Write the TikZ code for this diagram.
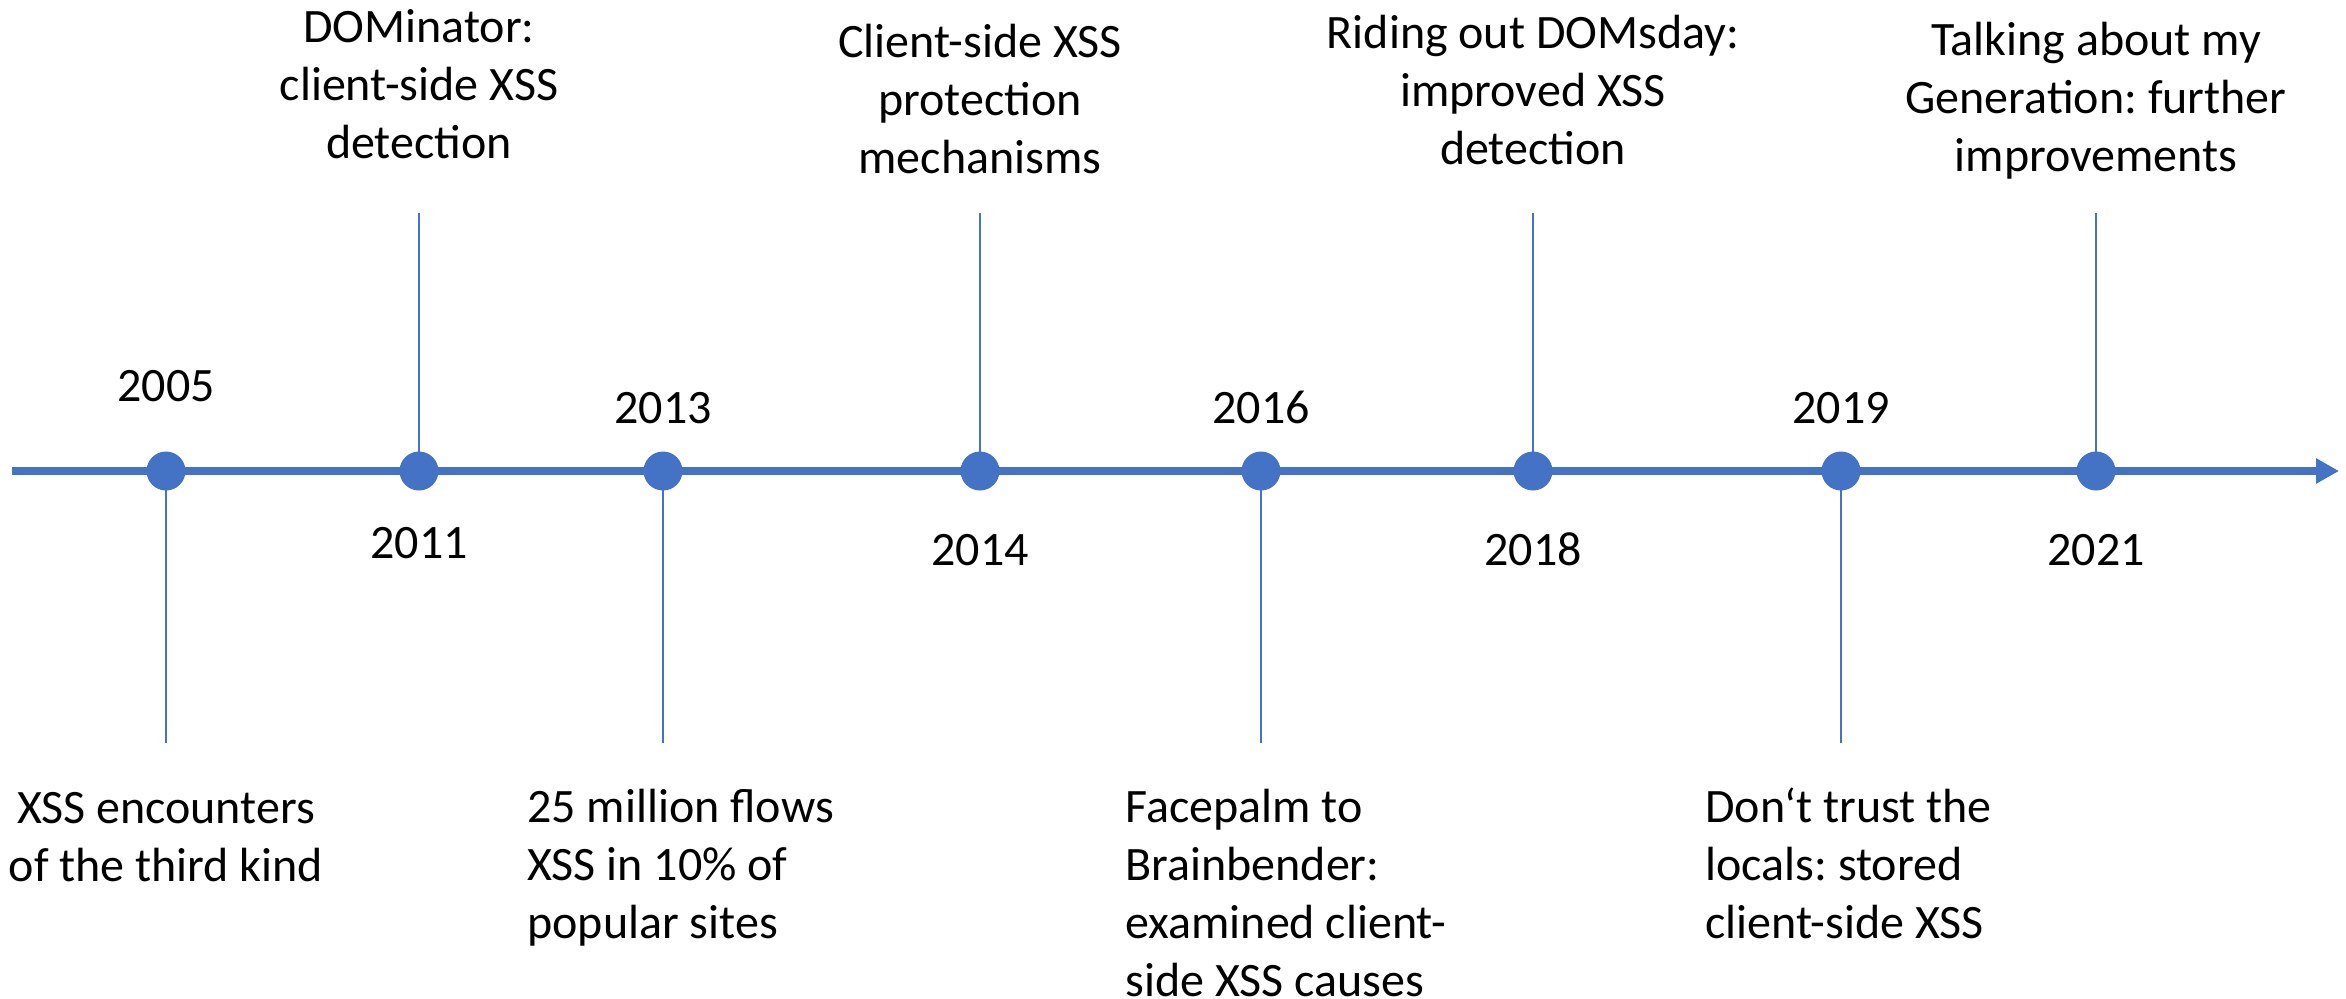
\documentclass[tikz,border=0pt]{standalone}
\usepackage{fontspec}
\setmainfont{Carlito}
\usetikzlibrary{arrows.meta}
\definecolor{tlblue}{HTML}{4472C4}
\frenchspacing
\begin{document}
\begin{tikzpicture}[x=0.5pt,y=-0.5pt,
  axisline/.style={draw=tlblue,line width=4pt,-{Triangle[length=11.5pt,width=12pt]}},
  stem/.style={draw=tlblue,line width=1.25pt},
  dot/.style={circle,fill=tlblue,minimum size=19.5pt,inner sep=0pt},
  txt/.style={font=\fontsize{24}{29}\selectfont,inner sep=0pt},
  year/.style={txt,anchor=base},
  cnote/.style={txt,anchor=base,align=center},
  lnote/.style={txt,anchor=base west,align=left}]
\useasboundingbox (0,0) rectangle (2346,998);

% points on the time axis and the free ends of the stems
\coordinate (start) at (12,471);
\coordinate (tip) at (2339,471);
\foreach \yr/\x/\e in {2005/166/743,2011/419/213,2013/663/743,2014/980/213,
                       2016/1261/743,2018/1533/213,2019/1841/743,2021/2096/213}{
  \coordinate (p\yr) at (\x,471);
  \coordinate (e\yr) at (\x,\e);
}

% axis and stems
\draw[axisline] (start) -- (tip);
\foreach \yr in {2005,2011,2013,2014,2016,2018,2019,2021}
  \draw[stem] (p\yr) -- (e\yr);

% event dots
\foreach \yr in {2005,2011,2013,2014,2016,2018,2019,2021}
  \node[dot] (d\yr) at (p\yr) {};

% year labels
\node[year] (y2005) at (166,401) {2005};
\node[year] (y2011) at (419,558) {2011};
\node[year] (y2013) at (663,423) {2013};
\node[year] (y2014) at (980,565) {2014};
\node[year] (y2016) at (1261,423) {2016};
\node[year] (y2018) at (1533,565) {2018};
\node[year] (y2019) at (1841,423) {2019};
\node[year] (y2021) at (2096,565) {2021};

% publications above the axis (placed by the baseline of their last line)
\node[cnote] (t2011) at (419,158) {DOMinator:\\client-side XSS\\detection};
\node[cnote] (t2014) at (980,173) {Client-side XSS\\protection\\mechanisms};
\node[cnote] (t2018) at (1533,164) {Riding out DOMsday:\\improved XSS\\detection};
\node[cnote] (t2021) at (2096,171) {Talking about my\\Generation: further\\improvements};

% publications below the axis (placed by the baseline of their last line)
\node[cnote] (t2005) at (166,881) {XSS encounters\\of the third kind};
\node[lnote] (t2013) at (527,938) {25 million flows\\XSS in 10\% of\\popular sites};
\node[lnote] (t2016) at (1125,996) {Facepalm to\\Brainbender:\\examined client-\\side XSS causes};
\node[lnote] (t2019) at (1705,938) {Don‘t trust the\\locals: stored\\client-side XSS};
\end{tikzpicture}
\end{document}
